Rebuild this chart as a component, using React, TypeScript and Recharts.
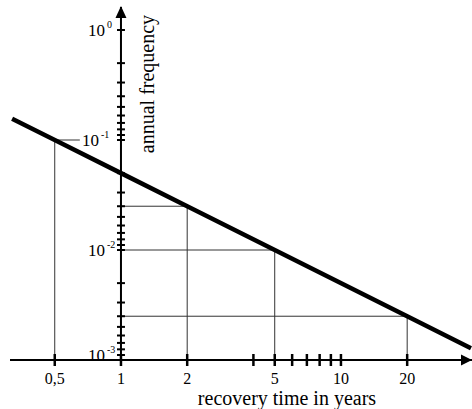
import { ComposedChart, Line, ReferenceLine, Scatter, XAxis, YAxis } from 'recharts'

// recovery time (years) vs annual frequency, both on log axes
const recoveryYears = [0.32, 0.5, 1, 2, 5, 20, 39]
const annualFrequency = [0.156, 0.1, 0.05, 0.025, 0.01, 0.0025, 0.00128]

// points picked out with thin guide lines
const markedYears = [0.5, 2, 5, 20]
const markedFrequency = [0.1, 0.025, 0.01, 0.0025]

const xTickValues = [0.5, 1, 2, 4, 5, 6, 7, 8, 9, 10, 20]
const xTickLabels = ['0,5', '1', '2', '', '5', '', '', '', '', '10', '20']

// minor ticks as drawn in the original (1/k spacing inside each decade)
const yTickValues = [
  1, 0.5, 0.333, 0.25, 0.2, 0.167, 0.143, 0.125, 0.111, 0.1,
  0.05, 0.0333, 0.025, 0.02, 0.0167, 0.0143, 0.0125, 0.0111, 0.01,
  0.005, 0.00333, 0.0025, 0.002, 0.00167, 0.00143, 0.00125, 0.00111,
]
const yDecades = [1, 0.1, 0.01, 0.001]
const yExponents = ['0', '-1', '-2', '-3']

const X_MIN = 0.313
const X_MAX = 39.42
const Y_MIN = 0.001
const Y_MAX = 1.619

const FONT = "'Liberation Serif', 'Times New Roman', serif"

const lineData = recoveryYears.map((t, i) => ({ t, f: annualFrequency[i] }))
const xTickData = xTickValues.map((t, i) => ({ t, f: Y_MIN, label: xTickLabels[i] }))
const yTickData = yTickValues.map((f) => ({ t: 1, f }))
const yLabelData = yDecades.map((f, i) => ({ t: 1, f, exp: yExponents[i] }))

const XTick = (p: any) => {
  const { cx, cy, payload } = p
  return (
    <g>
      <line x1={cx} x2={cx} y1={cy - 6} y2={cy + 6} stroke='#000' strokeWidth={2.5} />
      {payload.label && (
        <text x={cx} y={cy + 24} textAnchor='middle' fontSize={16} fontFamily={FONT} fill='#000'>
          {payload.label}
        </text>
      )}
    </g>
  )
}

const YTick = (p: any) => (
  <line x1={p.cx - 4} x2={p.cx + 4} y1={p.cy} y2={p.cy} stroke='#000' strokeWidth={2} />
)

const YLabel = (p: any) => {
  const { cx, cy, payload } = p
  const x = payload.f === 0.1 ? cx - 39 : cx - 33
  const y = payload.f === Y_MIN ? cy + 1 : cy + 6
  return (
    <text x={x} y={y} fontSize={17} fontFamily={FONT} fill='#000'>
      10
      <tspan dx={2} dy={-8} fontSize={10}>
        {payload.exp}
      </tspan>
    </text>
  )
}

const UpArrow = (p: any) => (
  <g>
    <path d={`M${p.cx},${p.cy - 1} L${p.cx - 5.5},${p.cy + 11} L${p.cx + 5.5},${p.cy + 11} Z`} fill='#000' />
    <text
      x={p.cx + 33}
      y={p.cy + 77}
      transform={`rotate(-90 ${p.cx + 33} ${p.cy + 77})`}
      textAnchor='middle'
      fontSize={20}
      fontFamily={FONT}
      fill='#000'
    >
      annual frequency
    </text>
  </g>
)

const RightArrow = (p: any) => (
  <g>
    <path d={`M${p.cx},${p.cy} L${p.cx - 11},${p.cy - 5.5} L${p.cx - 11},${p.cy + 5.5} Z`} fill='#000' />
    <text x={p.cx - 185} y={p.cy + 45} textAnchor='middle' fontSize={20} fontFamily={FONT} fill='#000'>
      recovery time in years
    </text>
  </g>
)

export default function App() {
  return (
    <div style={{ position: 'absolute', left: 0, top: 0 }}>
      <ComposedChart
        width={472}
        height={409}
        data={lineData}
        margin={{ top: 7, right: 0, bottom: 49, left: 10 }}
      >
        <XAxis dataKey='t' type='number' scale='log' domain={[X_MIN, X_MAX]} hide />
        <YAxis dataKey='f' type='number' scale='log' domain={[Y_MIN, Y_MAX]} hide />

        {/* guide lines down to the axis and across to the frequency axis */}
        {markedYears.map((t, i) => (
          <ReferenceLine
            key={'v' + t}
            segment={[{ x: t, y: Y_MIN }, { x: t, y: markedFrequency[i] }]}
            stroke='#333'
            strokeWidth={1}
          />
        ))}
        {markedYears.map((t, i) => (
          <ReferenceLine
            key={'h' + t}
            segment={[{ x: t, y: markedFrequency[i] }, { x: t < 1 ? t * 1.3 : 1, y: markedFrequency[i] }]}
            stroke='#333'
            strokeWidth={1}
          />
        ))}

        <ReferenceLine x={1} stroke='#000' strokeWidth={2} />
        <ReferenceLine y={Y_MIN} stroke='#000' strokeWidth={2} />

        <Scatter data={xTickData} dataKey='f' shape={XTick} isAnimationActive={false} />
        <Scatter data={yTickData} dataKey='f' shape={YTick} isAnimationActive={false} />
        <Scatter data={yLabelData} dataKey='f' shape={YLabel} isAnimationActive={false} />
        <Scatter data={[{ t: 1, f: Y_MAX }]} dataKey='f' shape={UpArrow} isAnimationActive={false} />
        <Scatter data={[{ t: X_MAX, f: Y_MIN }]} dataKey='f' shape={RightArrow} isAnimationActive={false} />

        <Line
          dataKey='f'
          type='linear'
          stroke='#000'
          strokeWidth={4.5}
          dot={false}
          activeDot={false}
          isAnimationActive={false}
        />
      </ComposedChart>
    </div>
  )
}
